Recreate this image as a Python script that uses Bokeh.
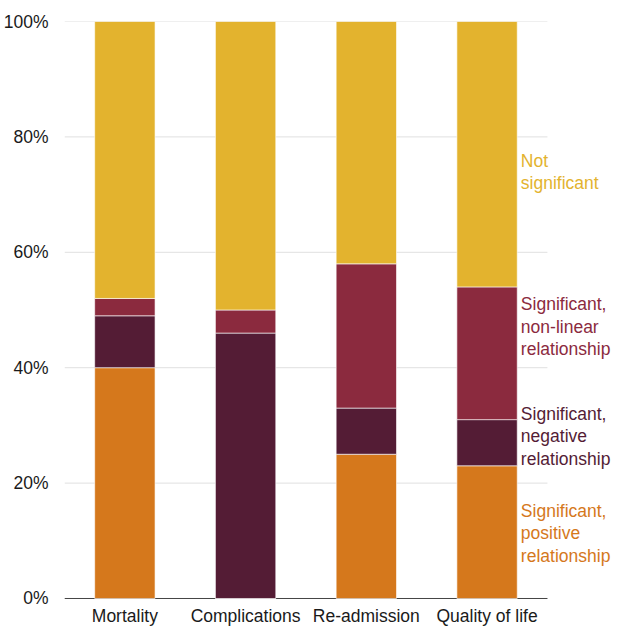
from bokeh.plotting import figure
from bokeh.models import Label, Range1d, FixedTicker, ColumnDataSource
from bokeh.core.properties import value
from bokeh.embed import file_html
from bokeh.resources import INLINE

categories = ["Mortality", "Complications", "Re-admission", "Quality of life"]
positive = [40, 0, 25, 23]
negative = [9, 46, 8, 8]
nonlinear = [3, 4, 25, 23]
not_significant = [48, 50, 42, 46]

series_keys = ["positive", "negative", "nonlinear", "not_significant"]
series_labels = [
    ["Significant,", "positive", "relationship"],
    ["Significant,", "negative", "relationship"],
    ["Significant,", "non-linear", "relationship"],
    ["Not", "significant"],
]
series_colors = ["#D5781C", "#541C35", "#8B2A3E", "#E3B32E"]
label_y = [11.3, 28.1, 47.1, 73.9]
y_ticks = [0, 20, 40, 60, 80, 100]

FONT = "Liberation Sans"
FS = "17.5px"

n_cat = len(categories)
xs = [i + 0.5 for i in range(n_cat)]
source = ColumnDataSource(dict(x=xs, positive=positive, negative=negative,
                               nonlinear=nonlinear, not_significant=not_significant))

# frame extends below 0 so the category names can sit under the baseline
p = figure(width=612, height=628, output_backend="svg", toolbar_location=None,
           x_range=Range1d(0, 4.539), y_range=Range1d(-5.2, 100),
           min_border_left=56, min_border_right=0, min_border_top=21, min_border_bottom=0)

# grid lines and axis line limited to the category area
p.segment(x0=[0] * len(y_ticks), x1=[n_cat] * len(y_ticks), y0=y_ticks, y1=y_ticks,
          line_color="#e0e0e0", line_width=1, level="underlay")
p.segment(x0=[0], x1=[n_cat], y0=[0], y1=[0], line_color="#444444", line_width=1)

p.vbar_stack(series_keys, x="x", width=0.5, source=source,
             fill_color=series_colors, line_color="white", line_alpha=0.6, line_width=1)

p.text(x=xs, y=[-3.1] * n_cat, text=categories, text_font=value(FONT),
       text_font_size=FS, text_color="#1a1a1a", text_align="center", text_baseline="middle")

p.outline_line_color = None
p.xgrid.grid_line_color = None
p.ygrid.grid_line_color = None
p.xaxis.visible = False

p.yaxis.ticker = FixedTicker(ticks=y_ticks)
p.yaxis.major_label_overrides = {t: f"{t}%" for t in y_ticks}
p.yaxis.axis_line_color = None
p.yaxis.major_tick_line_color = None
p.yaxis.minor_tick_line_color = None
p.yaxis.major_label_standoff = 10
p.yaxis.major_label_text_font = FONT
p.yaxis.major_label_text_font_size = FS
p.yaxis.major_label_text_color = "#1a1a1a"

label_x = xs[-1] + 0.28
line_gap = 3.9
for lines, yc, col in zip(series_labels, label_y, series_colors):
    n = len(lines)
    for k, t in enumerate(lines):
        yy = yc + (n - 1) / 2 * line_gap - k * line_gap
        p.add_layout(Label(x=label_x, y=yy, text=t, text_font=FONT, text_font_size=FS,
                           text_color=col, text_baseline="middle", text_align="left"))

open("out.html", "w").write(file_html(p, INLINE))
